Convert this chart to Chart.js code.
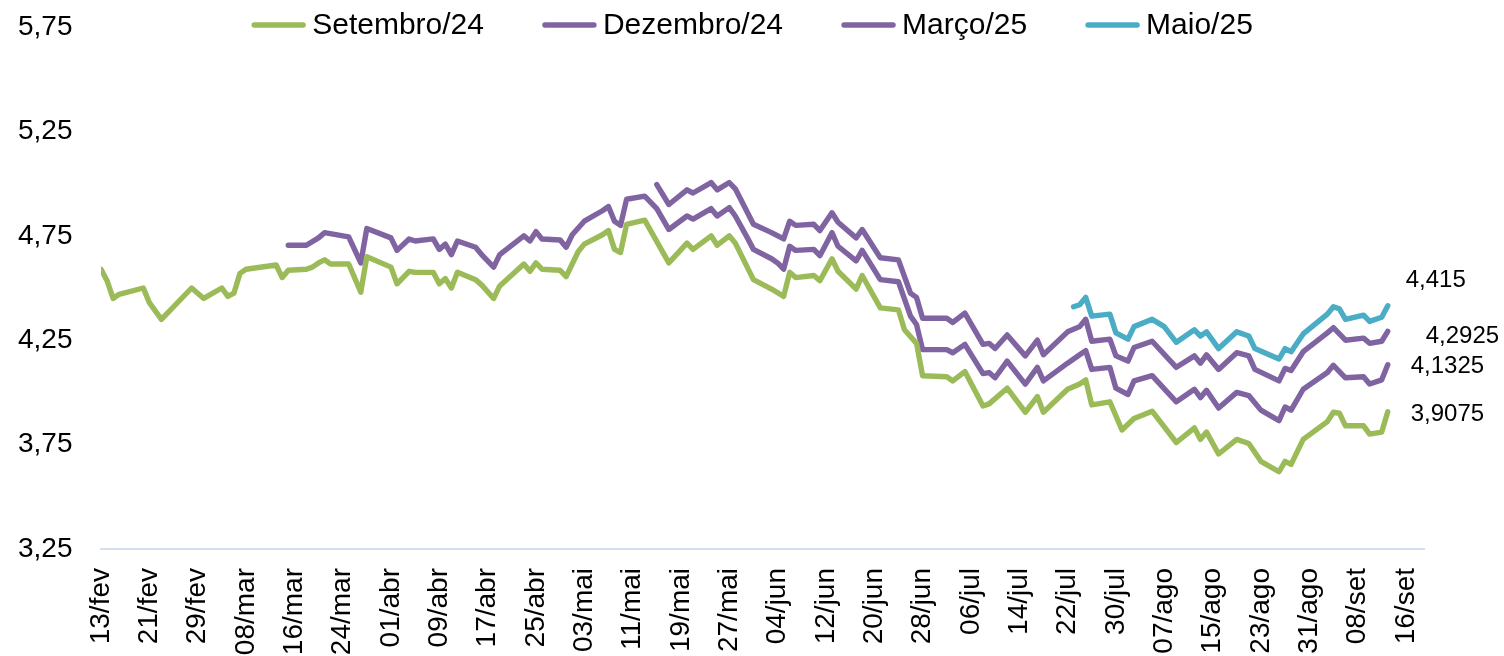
<!DOCTYPE html>
<html lang="pt-BR">
<head>
<meta charset="utf-8">
<title>Milho - curva de contratos</title>
<script src="https://cdn.jsdelivr.net/npm/chart.js@4.4.1/dist/chart.umd.min.js"></script>
<style>
  html, body { margin: 0; padding: 0; background: #fff; }
</style>
</head>
<body>
<canvas id="contratos-canvas" width="1504" height="656"></canvas>
<script>
var meses = ["jan", "fev", "mar", "abr", "mai", "jun", "jul", "ago", "set", "out", "nov", "dez"];

// one label per calendar day, 13/fev up to 19/set (2024)
var dias = [];
for (var i = 0; i <= 219; i++) {
  var dt = new Date(2024, 1, 13 + i);
  dias.push(("0" + dt.getDate()).slice(-2) + "/" + meses[dt.getMonth()]);
}

var setDatas = ["13/fev","14/fev","15/fev","16/fev","20/fev","21/fev","23/fev","28/fev","01/mar","04/mar","05/mar","06/mar","07/mar","08/mar","13/mar","14/mar","15/mar","18/mar","19/mar","20/mar","21/mar","22/mar","25/mar","27/mar","28/mar","01/abr","02/abr","04/abr","05/abr","08/abr","09/abr","10/abr","11/abr","12/abr","15/abr","16/abr","18/abr","19/abr","23/abr","24/abr","25/abr","26/abr","29/abr","30/abr","02/mai","03/mai","06/mai","07/mai","08/mai","09/mai","10/mai","13/mai","17/mai","20/mai","21/mai","24/mai","25/mai","27/mai","28/mai","31/mai","03/jun","05/jun","06/jun","07/jun","10/jun","11/jun","13/jun","14/jun","17/jun","18/jun","21/jun","24/jun","25/jun","27/jun","28/jun","02/jul","03/jul","05/jul","08/jul","09/jul","12/jul","15/jul","17/jul","18/jul","22/jul","24/jul","25/jul","26/jul","29/jul","31/jul","02/ago","05/ago","09/ago","12/ago","13/ago","14/ago","16/ago","19/ago","21/ago","23/ago","26/ago","27/ago","28/ago","30/ago","03/set","04/set","05/set","06/set","09/set","10/set","12/set","13/set"];
var setValores = [4.59,4.535,4.45,4.47,4.50,4.43,4.35,4.50,4.45,4.50,4.46,4.475,4.57,4.59,4.61,4.55,4.585,4.59,4.60,4.62,4.635,4.615,4.615,4.48,4.65,4.60,4.52,4.58,4.575,4.575,4.52,4.545,4.50,4.575,4.54,4.515,4.45,4.51,4.615,4.58,4.62,4.59,4.585,4.555,4.675,4.71,4.755,4.775,4.685,4.67,4.805,4.825,4.62,4.715,4.685,4.75,4.705,4.75,4.715,4.54,4.495,4.46,4.575,4.55,4.56,4.535,4.64,4.58,4.495,4.56,4.405,4.395,4.30,4.235,4.08,4.075,4.055,4.10,3.935,3.945,4.02,3.905,3.98,3.905,4.015,4.04,4.06,3.94,3.955,3.82,3.875,3.91,3.76,3.83,3.775,3.81,3.705,3.775,3.755,3.67,3.62,3.67,3.655,3.775,3.86,3.905,3.90,3.84,3.84,3.80,3.81,3.9075];

var dezDatas = ["15/mar","18/mar","20/mar","21/mar","25/mar","27/mar","28/mar","01/abr","02/abr","04/abr","05/abr","08/abr","09/abr","10/abr","11/abr","12/abr","15/abr","16/abr","18/abr","19/abr","23/abr","24/abr","25/abr","26/abr","29/abr","30/abr","01/mai","03/mai","06/mai","07/mai","08/mai","09/mai","10/mai","13/mai","15/mai","17/mai","20/mai","21/mai","24/mai","25/mai","27/mai","28/mai","30/mai","31/mai","03/jun","04/jun","05/jun","06/jun","07/jun","10/jun","11/jun","13/jun","14/jun","17/jun","18/jun","21/jun","24/jun","26/jun","27/jun","28/jun","02/jul","03/jul","05/jul","08/jul","09/jul","10/jul","12/jul","15/jul","17/jul","18/jul","22/jul","24/jul","25/jul","26/jul","29/jul","30/jul","01/ago","02/ago","05/ago","09/ago","12/ago","13/ago","14/ago","16/ago","19/ago","21/ago","23/ago","26/ago","27/ago","28/ago","30/ago","03/set","04/set","06/set","09/set","10/set","12/set","13/set"];
var dezValores = [4.705,4.705,4.74,4.765,4.745,4.62,4.785,4.74,4.68,4.735,4.725,4.735,4.685,4.71,4.66,4.725,4.695,4.66,4.60,4.66,4.75,4.725,4.77,4.735,4.73,4.695,4.755,4.82,4.87,4.89,4.82,4.80,4.925,4.94,4.88,4.78,4.845,4.83,4.88,4.845,4.885,4.845,4.74,4.685,4.64,4.62,4.59,4.70,4.68,4.685,4.655,4.765,4.70,4.63,4.68,4.54,4.53,4.365,4.325,4.205,4.205,4.19,4.23,4.09,4.095,4.07,4.15,4.04,4.12,4.055,4.14,4.18,4.20,4.11,4.12,4.02,3.99,4.055,4.08,3.955,4.015,3.975,4.01,3.925,4.00,3.985,3.915,3.865,3.93,3.915,4.015,4.095,4.13,4.07,4.075,4.04,4.06,4.1325];

var marDatas = ["15/mai","17/mai","20/mai","21/mai","24/mai","25/mai","27/mai","28/mai","31/mai","03/jun","05/jun","06/jun","07/jun","10/jun","11/jun","13/jun","14/jun","17/jun","18/jun","21/jun","24/jun","26/jun","27/jun","28/jun","02/jul","03/jul","05/jul","08/jul","09/jul","10/jul","12/jul","15/jul","17/jul","18/jul","22/jul","24/jul","25/jul","26/jul","29/jul","30/jul","01/ago","02/ago","05/ago","09/ago","12/ago","13/ago","14/ago","16/ago","19/ago","21/ago","22/ago","26/ago","27/ago","28/ago","30/ago","03/set","04/set","06/set","09/set","10/set","12/set","13/set"];
var marValores = [4.995,4.90,4.97,4.955,5.005,4.97,5.005,4.975,4.805,4.765,4.735,4.82,4.80,4.805,4.775,4.86,4.815,4.74,4.78,4.645,4.635,4.475,4.455,4.355,4.355,4.335,4.38,4.23,4.235,4.21,4.275,4.175,4.25,4.18,4.29,4.315,4.35,4.245,4.255,4.175,4.15,4.215,4.245,4.12,4.175,4.14,4.18,4.11,4.19,4.175,4.11,4.055,4.115,4.105,4.195,4.285,4.31,4.25,4.26,4.235,4.245,4.2925];

var maiDatas = ["23/jul","24/jul","25/jul","26/jul","29/jul","30/jul","01/ago","02/ago","05/ago","07/ago","09/ago","12/ago","13/ago","14/ago","16/ago","19/ago","21/ago","22/ago","26/ago","27/ago","28/ago","30/ago","03/set","04/set","05/set","06/set","09/set","10/set","12/set","13/set"];
var maiValores = [4.41,4.42,4.455,4.365,4.375,4.285,4.255,4.315,4.35,4.315,4.24,4.30,4.27,4.29,4.21,4.29,4.27,4.21,4.16,4.21,4.195,4.28,4.375,4.41,4.40,4.35,4.37,4.34,4.36,4.415];

var fonte = "'Liberation Sans', Arial, sans-serif";

function serie(datas, valores) {
  return datas.map(function (d, i) {
    return { x: dias.indexOf(d), y: valores[i] };
  });
}

function virgula(v) {
  return String(v).replace(".", ",");
}

function linha(label, cor, datas, valores) {
  return {
    label: label,
    data: serie(datas, valores),
    borderColor: cor,
    backgroundColor: cor,
    borderWidth: 5.4,
    borderCapStyle: "round",
    borderJoinStyle: "round",
    pointRadius: 0,
    pointHoverRadius: 0,
    tension: 0,
    fill: false,
  };
}

// one-row legend: line sample + name, entries centred on the canvas
var legendaLinha = {
  id: "legendaLinha",
  afterDraw: function (chart) {
    var ctx = chart.ctx;
    var sets = chart.data.datasets;
    var amostra = 55, espaco = 6, entre = 58, y = 25;
    ctx.save();
    ctx.font = "30px " + fonte;
    var larguras = sets.map(function (ds) {
      return amostra + espaco + ctx.measureText(ds.label).width;
    });
    var total = larguras.reduce(function (a, b) { return a + b; }, 0) + entre * (sets.length - 1);
    var x = chart.width / 2 - total / 2;
    sets.forEach(function (ds, i) {
      ctx.strokeStyle = ds.borderColor;
      ctx.lineWidth = 5.4;
      ctx.lineCap = "round";
      ctx.beginPath();
      ctx.moveTo(x + 3, y);
      ctx.lineTo(x + amostra - 3, y);
      ctx.stroke();
      ctx.fillStyle = "#000";
      ctx.textAlign = "left";
      ctx.textBaseline = "middle";
      ctx.fillText(ds.label, x + amostra + espaco, y + 1);
      x += larguras[i] + entre;
    });
    ctx.restore();
  },
};

// last value of each contract written next to the line end
var ultimosValores = {
  id: "ultimosValores",
  afterDatasetsDraw: function (chart) {
    var desloc = [[23, 3], [23, 2], [38, 5], [18, -25]];
    var ctx = chart.ctx;
    ctx.save();
    ctx.font = "24px " + fonte;
    ctx.fillStyle = "#000";
    ctx.textAlign = "left";
    ctx.textBaseline = "middle";
    chart.data.datasets.forEach(function (ds, i) {
      var pts = chart.getDatasetMeta(i).data;
      var p = pts[pts.length - 1];
      var v = ds.data[ds.data.length - 1].y;
      ctx.fillText(virgula(v), p.x + desloc[i][0], p.y + desloc[i][1]);
    });
    ctx.restore();
  },
};

new Chart(document.getElementById("contratos-canvas"), {
  type: "line",
  data: {
    datasets: [
      linha("Setembro/24", "#9BBB59", setDatas, setValores),
      linha("Dezembro/24", "#8064A2", dezDatas, dezValores),
      linha("Março/25", "#8064A2", marDatas, marValores),
      linha("Maio/25", "#4BACC6", maiDatas, maiValores),
    ],
  },
  options: {
    responsive: false,
    animation: false,
    devicePixelRatio: 1,
    layout: {
      padding: { left: 18, right: 80, top: 27, bottom: 0 },
    },
    plugins: {
      legend: { display: false },
      tooltip: { enabled: false },
    },
    scales: {
      x: {
        type: "linear",
        min: 0,
        max: 219,
        grid: { display: false, drawTicks: false },
        border: { display: true, color: "#D3DFEF", width: 2 },
        afterFit: function (scale) {
          scale.height = 107;
        },
        ticks: {
          stepSize: 8,
          includeBounds: false,
          autoSkip: false,
          maxRotation: 90,
          minRotation: 90,
          padding: 19,
          color: "#000",
          font: { family: fonte, size: 28 },
          callback: function (v) {
            return dias[v];
          },
        },
      },
      y: {
        min: 3.25,
        max: 5.75,
        grid: { display: false, drawTicks: false },
        border: { display: false },
        afterFit: function (scale) {
          scale.width = 83;
        },
        ticks: {
          stepSize: 0.5,
          padding: 0,
          crossAlign: "far",
          color: "#000",
          font: { family: fonte, size: 28 },
          callback: function (v) {
            return v.toFixed(2).replace(".", ",");
          },
        },
      },
    },
  },
  plugins: [legendaLinha, ultimosValores],
});
</script>
</body>
</html>
